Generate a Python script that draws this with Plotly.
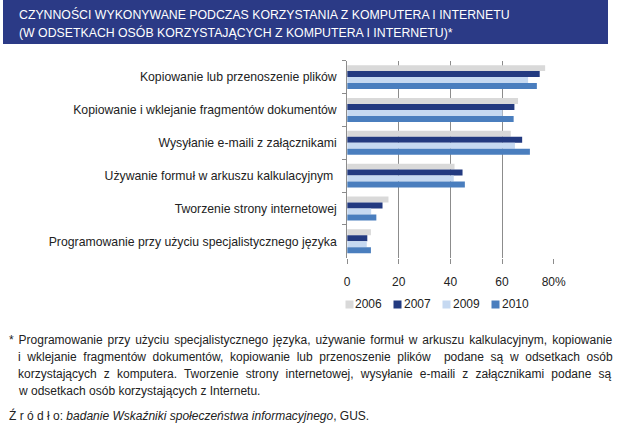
import plotly.graph_objects as go

categories = [
    "Kopiowanie lub przenoszenie plików",
    "Kopiowanie i wklejanie fragmentów dokumentów",
    "Wysyłanie e-maili z załącznikami",
    "Używanie formuł w arkuszu kalkulacyjnym ",
    "Tworzenie strony internetowej",
    "Programowanie przy użyciu specjalistycznego języka",
]
years = ["2006", "2007", "2009", "2010"]
v2006 = [76.7, 66.2, 63.4, 41.6, 16.0, 9.2]
v2007 = [74.6, 64.8, 67.8, 44.7, 13.7, 7.8]
v2009 = [70.1, 60.2, 65.0, 41.3, 9.3, 7.6]
v2010 = [73.5, 64.5, 70.8, 45.6, 11.3, 9.2]
series = [v2006, v2007, v2009, v2010]
tick_vals = [0, 20, 40, 60, 80]
tick_text = ["0", "20", "40", "60", "80%"]

title_lines = [
    "CZYNNOŚCI WYKONYWANE PODCZAS KORZYSTANIA Z KOMPUTERA I INTERNETU",
    "(W ODSETKACH OSÓB KORZYSTAJĄCYCH Z KOMPUTERA I INTERNETU)*",
]
foot_lines = [
    "* Programowanie przy użyciu specjalistycznego języka, używanie formuł w arkuszu kalkulacyjnym, kopiowanie",
    "i wklejanie fragmentów dokumentów, kopiowanie lub przenoszenie plików&nbsp; podane są w odsetkach osób",
    "korzystających z komputera. Tworzenie strony internetowej, wysyłanie e-maili z załącznikami podane są",
    "w odsetkach osób korzystających z Internetu.",
]
foot_word_spacing = [1.6, 3.3, 3.8, 0]
source_text = "Ź r ó d ł o: <i>badanie Wskaźniki społeczeństwa informacyjnego</i>, GUS."

colors = ["#d9d9d9", "#233a80", "#c6d9f1", "#4a7ebe"]

W, H = 620, 430
FONT = "Liberation Sans, Arial, sans-serif"
TXT = "#222222"
GRID = "#8c8c8c"


def px(x):
    return x / W


def py(y):
    return 1 - y / H


fig = go.Figure()
for name, vals, col in zip(years, series, colors):
    fig.add_trace(go.Bar(
        y=categories, x=vals, name=name, orientation="h",
        marker=dict(color=col, line=dict(width=0)),
        showlegend=False,
    ))

annotations = []
for i, t in enumerate(title_lines):
    annotations.append(dict(
        text=t, x=px(14), y=py(14 + i * 18), xref="paper", yref="paper",
        xanchor="left", yanchor="middle", showarrow=False,
        font=dict(family=FONT, size=12.3, color="white"),
    ))
# legend
for i, (name, col) in enumerate(zip(years, colors)):
    x0 = 350 + i * 50
    annotations.append(dict(
        text="", x=px(x0), y=py(304), xref="paper", yref="paper",
        xanchor="left", yanchor="middle", showarrow=False,
        width=7, height=7, bgcolor=col, borderpad=0,
    ))
    annotations.append(dict(
        text=name, x=px(x0 + 9), y=py(304), xref="paper", yref="paper",
        xanchor="left", yanchor="middle", showarrow=False,
        font=dict(family=FONT, size=12, color=TXT),
    ))
for i, (t, ws) in enumerate(zip(foot_lines, foot_word_spacing)):
    annotations.append(dict(
        text=f'<span style="word-spacing:{ws}px">{t}</span>',
        x=px(4 if i == 0 else 13), y=py(340 + i * 17), xref="paper", yref="paper",
        xanchor="left", yanchor="middle", showarrow=False,
        font=dict(family=FONT, size=12, color=TXT),
    ))
annotations.append(dict(
    text=source_text, x=px(4), y=py(415), xref="paper", yref="paper",
    xanchor="left", yanchor="middle", showarrow=False,
    font=dict(family=FONT, size=12, color=TXT),
))

fig.update_layout(
    width=W, height=H,
    margin=dict(l=0, r=0, t=0, b=0),
    paper_bgcolor="white", plot_bgcolor="white",
    barmode="group", bargap=0.27, bargroupgap=0,
    showlegend=False,
    font=dict(family=FONT, size=12, color=TXT),
    shapes=[dict(type="rect", xref="paper", yref="paper",
                 x0=0, x1=1, y0=py(44), y1=1,
                 fillcolor="#2b3a86", line=dict(width=0), layer="below")],
    annotations=annotations,
    xaxis=dict(
        domain=[px(352.7), px(564.3)], range=[0, 80],
        tickvals=tick_vals, ticktext=tick_text,
        showgrid=True, gridcolor=GRID, gridwidth=1,
        zeroline=False, showline=False,
        ticks="outside", ticklen=5, tickcolor=GRID,
        ticklabelstandoff=8,
        tickfont=dict(family=FONT, size=12, color=TXT),
    ),
    yaxis=dict(
        domain=[py(257.7), py(60.7)],
        type="category", autorange="reversed",
        showline=True, linecolor=GRID, linewidth=1,
        ticks="outside", ticklen=4, tickcolor=GRID, tickson="boundaries",
        ticklabelstandoff=7,
        tickfont=dict(family=FONT, size=12.25, color=TXT),
        showgrid=False,
    ),
)

fig.write_html("out.html", config={"displayModeBar": False},
               post_script="document.body.style.margin='0';")
